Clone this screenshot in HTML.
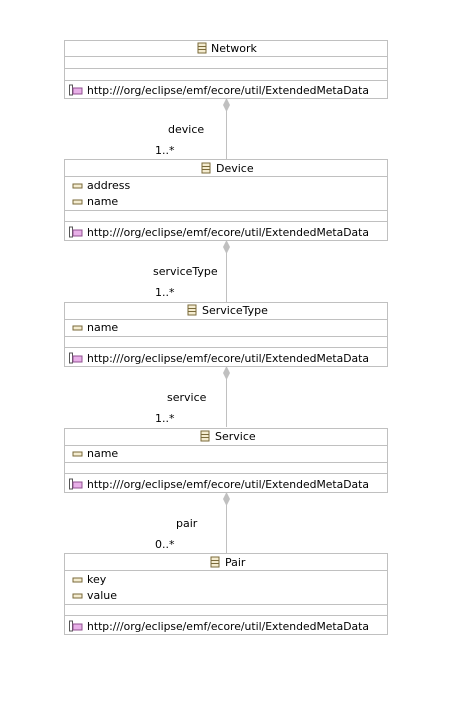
<!DOCTYPE html>
<html><head><style>
body{margin:0;background:#fff;}
svg text{font-family:"DejaVu Sans","Liberation Sans",sans-serif;font-size:11px;fill:#000;}
</style></head><body>
<svg width="460" height="700" xmlns="http://www.w3.org/2000/svg">
<defs>
<g id="cls"><rect x="0" y="0" width="8" height="10" fill="#f4ecd0" stroke="#7a6a3a"/><line x1="0" y1="3.5" x2="8" y2="3.5" stroke="#7a6a3a"/><line x1="0" y1="6.5" x2="8" y2="6.5" stroke="#7a6a3a"/></g>
<g id="attr"><rect x="0" y="0" width="9" height="4" fill="#f4ecd0" stroke="#7a6a3a"/></g>
<g id="ann"><rect x="0.5" y="0" width="3" height="10" fill="#fff" stroke="#555"/><rect x="4" y="3" width="9" height="6" fill="#e8b0e8" stroke="#905090"/></g>
</defs>
<g fill="none" stroke="#c0c0c0">
<line x1="226.5" y1="98" x2="226.5" y2="159"/>
<line x1="226.5" y1="240" x2="226.5" y2="302"/>
<line x1="226.5" y1="366" x2="226.5" y2="427"/>
<line x1="226.5" y1="492" x2="226.5" y2="553"/>
</g>
<g fill="#c0c0c0">
<polygon points="226.5,98 230,105 226.5,112 223,105"/>
<polygon points="226.5,240 230,247 226.5,254 223,247"/>
<polygon points="226.5,366 230,373 226.5,380 223,373"/>
<polygon points="226.5,492 230,499 226.5,506 223,499"/>
</g>
<text x="168" y="133">device</text><text x="155" y="154">1..*</text>
<text x="153" y="275">serviceType</text><text x="155" y="296">1..*</text>
<text x="167" y="401">service</text><text x="155" y="422">1..*</text>
<text x="176" y="527">pair</text><text x="155" y="548">0..*</text>

<g stroke="#c0c0c0" fill="#fff">
<rect x="64.5" y="40.5" width="323" height="58"/>
<line x1="64.5" y1="56.5" x2="387.5" y2="56.5"/><line x1="64.5" y1="68.5" x2="387.5" y2="68.5"/><line x1="64.5" y1="80.5" x2="387.5" y2="80.5"/>
</g>
<use href="#cls" x="198" y="43"/><text x="211" y="52">Network</text>
<use href="#ann" x="69" y="85"/><text x="87" y="94" textLength="282" lengthAdjust="spacingAndGlyphs">http:///org/eclipse/emf/ecore/util/ExtendedMetaData</text>

<g stroke="#c0c0c0" fill="#fff">
<rect x="64.5" y="159.5" width="323" height="81"/>
<line x1="64.5" y1="176.5" x2="387.5" y2="176.5"/><line x1="64.5" y1="210.5" x2="387.5" y2="210.5"/><line x1="64.5" y1="221.5" x2="387.5" y2="221.5"/>
</g>
<use href="#cls" x="202" y="163"/><text x="216" y="172">Device</text>
<use href="#attr" x="73" y="184"/><text x="87" y="189">address</text>
<use href="#attr" x="73" y="200"/><text x="87" y="205">name</text>
<use href="#ann" x="69" y="227"/><text x="87" y="236" textLength="282" lengthAdjust="spacingAndGlyphs">http:///org/eclipse/emf/ecore/util/ExtendedMetaData</text>

<g stroke="#c0c0c0" fill="#fff">
<rect x="64.5" y="302.5" width="323" height="64"/>
<line x1="64.5" y1="319.5" x2="387.5" y2="319.5"/><line x1="64.5" y1="336.5" x2="387.5" y2="336.5"/><line x1="64.5" y1="347.5" x2="387.5" y2="347.5"/>
</g>
<use href="#cls" x="188" y="305"/><text x="202" y="314">ServiceType</text>
<use href="#attr" x="73" y="326"/><text x="87" y="331">name</text>
<use href="#ann" x="69" y="353"/><text x="87" y="362" textLength="282" lengthAdjust="spacingAndGlyphs">http:///org/eclipse/emf/ecore/util/ExtendedMetaData</text>

<g stroke="#c0c0c0" fill="#fff">
<rect x="64.5" y="428.5" width="323" height="64"/>
<line x1="64.5" y1="445.5" x2="387.5" y2="445.5"/><line x1="64.5" y1="462.5" x2="387.5" y2="462.5"/><line x1="64.5" y1="473.5" x2="387.5" y2="473.5"/>
</g>
<use href="#cls" x="201" y="431"/><text x="215" y="440">Service</text>
<use href="#attr" x="73" y="452"/><text x="87" y="457">name</text>
<use href="#ann" x="69" y="479"/><text x="87" y="488" textLength="282" lengthAdjust="spacingAndGlyphs">http:///org/eclipse/emf/ecore/util/ExtendedMetaData</text>

<g stroke="#c0c0c0" fill="#fff">
<rect x="64.5" y="553.5" width="323" height="81"/>
<line x1="64.5" y1="570.5" x2="387.5" y2="570.5"/><line x1="64.5" y1="604.5" x2="387.5" y2="604.5"/><line x1="64.5" y1="615.5" x2="387.5" y2="615.5"/>
</g>
<use href="#cls" x="211" y="557"/><text x="225" y="566">Pair</text>
<use href="#attr" x="73" y="578"/><text x="87" y="583">key</text>
<use href="#attr" x="73" y="594"/><text x="87" y="599">value</text>
<use href="#ann" x="69" y="621"/><text x="87" y="630" textLength="282" lengthAdjust="spacingAndGlyphs">http:///org/eclipse/emf/ecore/util/ExtendedMetaData</text>
</svg>
</body></html>
